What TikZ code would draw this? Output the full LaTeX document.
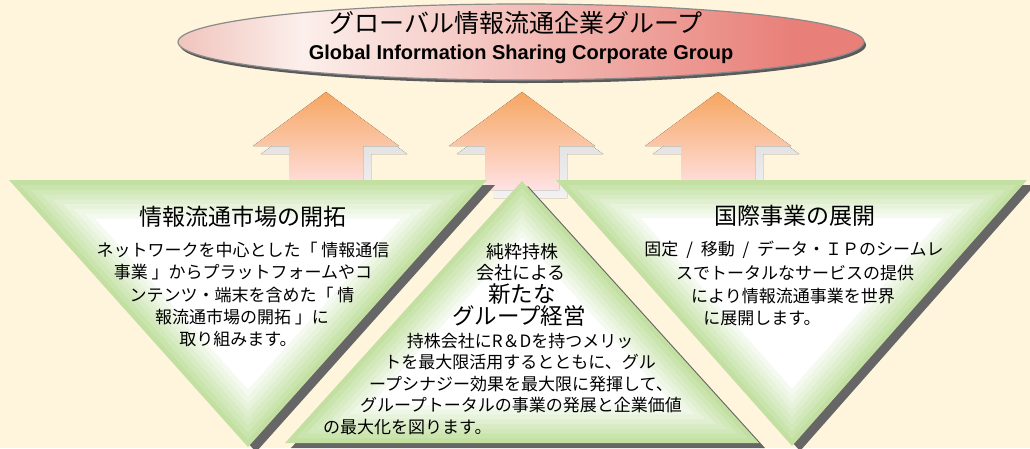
\documentclass[tikz,border=0pt]{standalone}
\usepackage{fontspec}
\newfontfamily\jp{Noto Sans CJK JP}
\newfontfamily\lat{Liberation Sans}
\usetikzlibrary{calc}
\definecolor{bgc}{HTML}{FFF5DC}
\definecolor{ellL}{HTML}{F0C4BC}
\definecolor{ellW}{HTML}{FCEFEB}
\definecolor{ellR}{HTML}{E87F78}
\definecolor{ellborder}{HTML}{8A8A8A}
\definecolor{ellshadow}{HTML}{5A5A5A}
\definecolor{arrTop}{HTML}{F6A661}
\definecolor{arrBot}{HTML}{FFE2E4}
\definecolor{shTop}{HTML}{D6D6D6}
\definecolor{shBot}{HTML}{F2F2F2}
\definecolor{tgreen}{HTML}{C3E0A2}
\definecolor{trishadow}{HTML}{666666}
\pgfdeclarehorizontalshading{ellsh}{100bp}{color(0bp)=(ellL); color(25bp)=(ellL); color(34bp)=(ellW); color(70bp)=(ellR); color(100bp)=(ellR)}
\tikzset{
  jptitle/.style={font=\jp\fontsize{25}{28}\selectfont, inner sep=0pt},
  entitle/.style={font=\lat\bfseries\fontsize{20}{22}\selectfont, inner sep=0pt},
  trititle/.style={font=\jp\fontsize{23}{26}\selectfont, inner sep=0pt},
  bodytxt/.style={font=\jp\fontsize{17}{19}\selectfont, inner sep=0pt},
  midsmall/.style={font=\jp\fontsize{18}{20}\selectfont, inner sep=0pt},
  midbig/.style={font=\jp\fontsize{22.5}{25}\selectfont, inner sep=0pt},
  arrfill/.style={top color=arrTop, bottom color=arrBot},
  arrshadow/.style={top color=shTop, bottom color=shBot},
}
\begin{document}
\begin{tikzpicture}[x=1pt,y=-1pt]
\useasboundingbox (0,0) rectangle (1030,448);
\fill[bgc] (0,0) rectangle (1030,448);

% top ellipse
\fill[ellshadow] (523,45) ellipse [x radius=343, y radius=38];
\path[draw=ellborder, line width=1.2pt, shading=ellsh] (521,42) ellipse [x radius=343, y radius=38];
\node[jptitle] (title) at (516,23) {グローバル情報流通企業グループ};
\node[entitle] (entitle) at (521,54) {Global Information Sharing Corporate Group};

% arrows
\foreach \cx in {326,522,718} {
  \fill[arrshadow] (\cx+8,100) -- (\cx+81,154) -- (\cx+45,154) -- (\cx+45,198) -- (\cx-29,198) -- (\cx-29,154) -- (\cx-65,154) -- cycle;
  \fill[arrfill] (\cx,92) -- (\cx+73,146) -- (\cx+37,146) -- (\cx+37,190) -- (\cx-37,190) -- (\cx-37,146) -- (\cx-73,146) -- cycle;
}

% triangle corners
\coordinate (LA) at (9,180);   \coordinate (LB) at (487,180); \coordinate (LC) at (248,447); \coordinate (LI) at (248,287);
\coordinate (MA) at (522,181); \coordinate (MB) at (759,443); \coordinate (MC) at (285,443); \coordinate (MI) at (522,338);
\coordinate (RA) at (556,180); \coordinate (RB) at (1027,180);\coordinate (RC) at (792,446); \coordinate (RI) at (792,286);

% shadows
\fill[trishadow] ([shift={(8,5)}]LA) -- ([shift={(8,5)}]LB) -- ([shift={(8,5)}]LC) -- cycle;
\fill[trishadow] ([shift={(6,5)}]MA) -- ([shift={(6,5)}]MB) -- ([shift={(6,5)}]MC) -- cycle;
\fill[trishadow] ([shift={(8,5)}]RA) -- ([shift={(8,5)}]RB) -- ([shift={(8,5)}]RC) -- cycle;

% banded triangles
\foreach \A/\B/\C/\I in {LA/LB/LC/LI, MA/MB/MC/MI, RA/RB/RC/RI} {
  \foreach \k in {0,...,7} {
    \pgfmathtruncatemacro\p{100-12*\k}
    \pgfmathsetmacro\s{1-0.045*\k}
    \fill[tgreen!\p!white] ($(\I)!\s!(\A)$) -- ($(\I)!\s!(\B)$) -- ($(\I)!\s!(\C)$) -- cycle;
  }
  \fill[white] ($(\I)!0.64!(\A)$) -- ($(\I)!0.64!(\B)$) -- ($(\I)!0.64!(\C)$) -- cycle;
}

% left texts
\node[trititle] (lt) at (243,217) {情報流通市場の開拓};
\node[bodytxt] (l1) at (243,250) {ネットワークを中心とした「 情報通信};
\node[bodytxt] (l2) at (243,272.5) {事業 」からプラットフォームやコ};
\node[bodytxt] (l3) at (242,295) {ンテンツ・端末を含めた「 情};
\node[bodytxt] (l4) at (242,317) {報流通市場の開拓 」に};
\node[bodytxt] (l5) at (238,339) {取り組みます。};

% right texts
\node[trititle] (rt) at (795,216) {国際事業の展開};
\node[bodytxt] (r1) at (794,250) {固定\hspace{4pt} / \hspace{4pt}移動\hspace{4pt} / \hspace{4pt}データ・ＩＰのシームレ};
\node[bodytxt] (r2) at (795,273) {スでトータルなサービスの提供};
\node[bodytxt] (r3) at (793,296) {により情報流通事業を世界};
\node[bodytxt] (r4) at (762,318) {に展開します。};

% middle texts
\node[midsmall] (m1) at (522,252) {純粋持株};
\node[midsmall] (m2) at (521,273) {会社による};
\node[midbig] (m3) at (522,294) {新たな};
\node[midbig] (m4) at (519,316) {グループ経営};
\node[bodytxt] (m5) at (520,341) {持株会社にR＆Dを持つメリッ};
\node[bodytxt] (m6) at (520,362) {トを最大限活用するとともに、グル};
\node[bodytxt] (m7) at (521,384) {ープシナジー効果を最大限に発揮して、};
\node[bodytxt] (m8) at (521,405) {グループトータルの事業の発展と企業価値};
\node[bodytxt, anchor=west] (m9) at (323,427) {の最大化を図ります。};
\end{tikzpicture}
\end{document}
